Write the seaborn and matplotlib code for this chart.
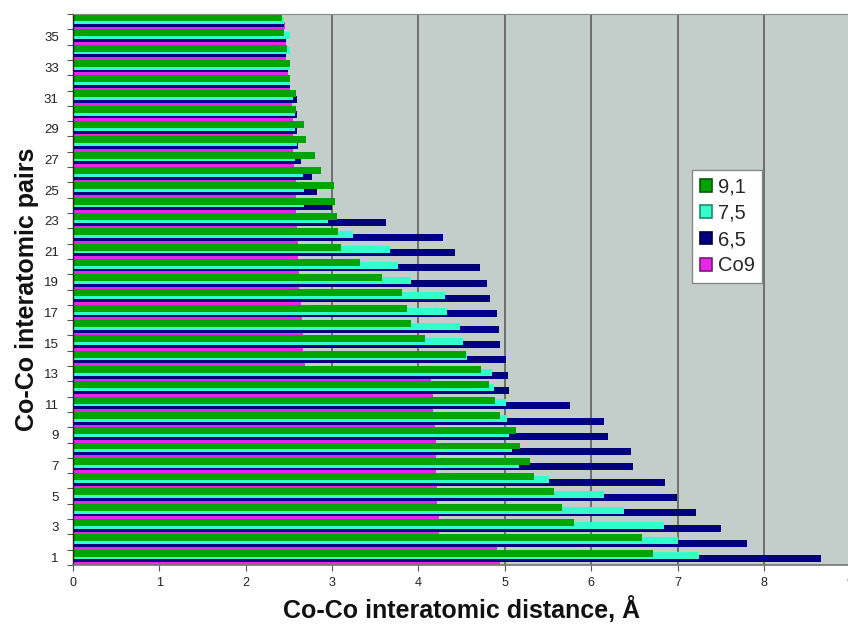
import numpy as np
import pandas as pd
import matplotlib
matplotlib.use("Agg")
import matplotlib.pyplot as plt
from matplotlib.patches import Patch
from matplotlib.ticker import FixedLocator, FixedFormatter, NullFormatter
import seaborn as sns

# Co-Co pair index (1 = shortest-to-longest ranking of each cluster)
pairs = list(range(1, 37))

# Co-Co distances (Angstrom) for each cluster, pair 1 .. 36
co9 = [4.95, 4.91, 4.24, 4.24, 4.22, 4.22, 4.21, 4.21, 4.21, 4.19,
       4.17, 4.17, 4.15, 2.69, 2.67, 2.67, 2.65, 2.64, 2.62, 2.62,
       2.61, 2.61, 2.60, 2.59, 2.58, 2.58, 2.56, 2.55, 2.55, 2.55,
       2.54, 2.52, 2.49, 2.47, 2.47, 2.46]
s65 = [8.66, 7.81, 7.50, 7.21, 6.99, 6.85, 6.48, 6.46, 6.20, 6.15,
       5.76, 5.05, 5.04, 5.02, 4.95, 4.93, 4.91, 4.83, 4.79, 4.71,
       4.42, 4.29, 3.63, 3.00, 2.83, 2.77, 2.64, 2.61, 2.60, 2.60,
       2.60, 2.52, 2.49, 2.47, 2.47, 2.45]
s75 = [7.25, 7.00, 6.84, 6.38, 6.15, 5.51, 5.17, 5.08, 5.05, 5.03,
       5.01, 4.88, 4.85, 4.56, 4.52, 4.48, 4.33, 4.31, 3.91, 3.76,
       3.67, 3.25, 2.95, 2.68, 2.68, 2.66, 2.57, 2.60, 2.57, 2.57,
       2.55, 2.52, 2.51, 2.52, 2.51, 2.44]
s91 = [6.72, 6.59, 5.80, 5.66, 5.57, 5.34, 5.29, 5.18, 5.13, 4.94,
       4.89, 4.82, 4.72, 4.55, 4.08, 3.92, 3.87, 3.81, 3.58, 3.33,
       3.10, 3.07, 3.06, 3.04, 3.02, 2.87, 2.81, 2.70, 2.68, 2.58,
       2.58, 2.52, 2.52, 2.48, 2.45, 2.42]

series_names = ["Co9", "6,5", "7,5", "9,1"]
series_values = [co9, s65, s75, s91]
colors = ["#e826e8", "#000080", "#33ffcc", "#00a400"]
edge_colors = ["#7a1a7a", "#000040", "#1a8a70", "#005a00"]
# overlapping bars inside each pair slot, later series drawn on top
offsets = [-0.275, -0.092, 0.092, 0.275]
bar_height = 0.457

sns.set_theme(style="white")
plt.rcParams["font.family"] = ["Liberation Sans", "DejaVu Sans"]

fig = plt.figure(figsize=(8.48, 6.32), dpi=100)
ax = fig.add_axes([72.7 / 848, 1 - 565 / 632, 777.6 / 848, 551 / 632])
ax.set_facecolor("#c3cdca")

for name, vals, col, off in zip(series_names, series_values, colors, offsets):
    df = pd.DataFrame({"pair": np.array(pairs, dtype=float) + off,
                       "distance": vals})
    sns.barplot(data=df, x="distance", y="pair", orient="h",
                native_scale=True, width=bar_height, color=col,
                saturation=1, errorbar=None, linewidth=0, ax=ax)

ax.set_xlim(0, 9)
ax.set_ylim(0.5, 36.5)

# vertical gridlines
ax.set_axisbelow(True)
ax.set_xticks(range(10))
ax.xaxis.grid(True, color="#6e6e6e", linewidth=1.4)
ax.yaxis.grid(False)

# category ticks at slot boundaries, labels on odd pairs
ax.yaxis.set_major_locator(FixedLocator(np.arange(0.5, 37, 1)))
ax.yaxis.set_major_formatter(NullFormatter())
odd = pairs[::2]
ax.yaxis.set_minor_locator(FixedLocator(odd))
ax.yaxis.set_minor_formatter(FixedFormatter([str(p) for p in odd]))
ax.tick_params(axis="y", which="major", left=True, length=4, width=0.8,
               color="#555555", direction="out")
ax.tick_params(axis="y", which="minor", left=True, length=0, pad=10,
               labelsize=9.5, labelcolor="#222222")
ax.tick_params(axis="x", which="major", bottom=True, length=4, width=0.8,
               color="#555555", direction="out", pad=5, labelsize=9,
               labelcolor="#222222")

ax.spines["left"].set_color("#222222")
ax.spines["left"].set_linewidth(1.0)
ax.spines["bottom"].set_color("#777777")
ax.spines["top"].set_color("#888888")
ax.spines["top"].set_linewidth(0.8)
ax.spines["right"].set_visible(False)

ax.set_xlabel("Co-Co interatomic distance, Å", fontsize=18,
              fontweight="bold", color="#111111")
ax.set_ylabel("Co-Co interatomic pairs", fontsize=18, fontweight="bold",
              color="#111111")
ax.xaxis.set_label_coords(0.5, (565 - 596) / 551)
ax.yaxis.set_label_coords((39 - 72.7) / 777.6, 0.5)

order = [3, 2, 1, 0]
handles = [Patch(facecolor=colors[i], edgecolor=edge_colors[i],
                 linewidth=1.2, label=series_names[i]) for i in order]
leg = ax.legend(handles=handles, loc="upper left",
                bbox_to_anchor=((692 - 72.7) / 777.6, (565 - 170) / 551),
                borderaxespad=0, fontsize=14.5, frameon=True, fancybox=False,
                edgecolor="#888888", facecolor="white", framealpha=1,
                handlelength=0.6, handleheight=0.6, handletextpad=0.3,
                labelspacing=0.36, borderpad=0.38)
leg.get_frame().set_linewidth(1.0)

fig.savefig("out.png", dpi=100)
